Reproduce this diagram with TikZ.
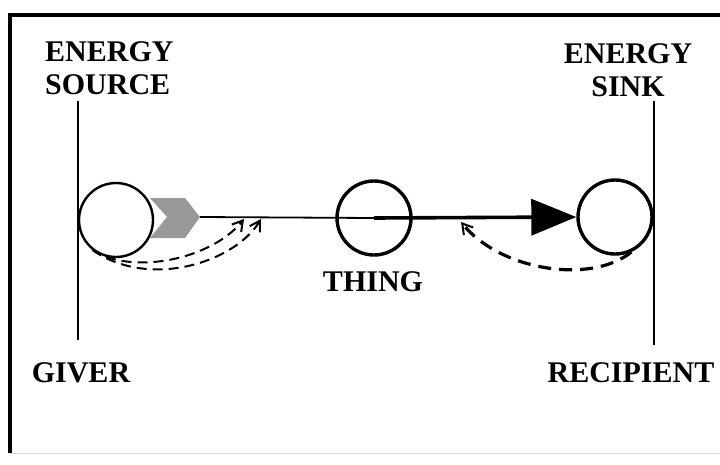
\documentclass[tikz,border=0pt]{standalone}
\usepackage{fontspec}
\setmainfont{Liberation Serif}
\usetikzlibrary{arrows.meta,positioning}

\begin{document}
\begin{tikzpicture}[x=1pt,y=-1pt,
  lbl/.style={font=\fontsize{30}{33}\selectfont\bfseries,align=center,inner sep=0pt},
  body/.style={circle,draw,minimum size=74pt,inner sep=0pt},
  wall/.style={line width=2.4pt},
  flow/.style={dashed,dash pattern=on 10pt off 6pt,line width=2pt,-{Straight Barb[length=10pt,width=12pt,line width=2pt]}}]
  \useasboundingbox (0,0) rectangle (720,464);
  % frame
  \draw[line width=3.2pt] (10,453) -- (10,15) -- (725,15);
  \draw[black!15,line width=0.6pt] (10,453) -- (725,453);
  % walls
  \coordinate (gtop) at (78,101);  \coordinate (gbot) at (78,340);
  \coordinate (rtop) at (654,101); \coordinate (rbot) at (654,345);
  \draw[wall] (gtop) -- (gbot);
  \draw[wall] (rtop) -- (rbot);
  % bodies
  \node[body,line width=2.4pt] (src) at (116,220) {};
  \node[body,line width=3.4pt] (thing) at (374,218) {};
  \node[body,line width=3.4pt] (sink) at (615,217) {};
  % labels
  \node[lbl,align=left,anchor=north west] (source) at (45,41) {ENERGY\\SOURCE};
  \node[lbl] (sinklbl) at (628,70) {ENERGY\\SINK};
  \node[lbl] (thinglbl) at (373,282) {THING};
  \node[lbl] (giver) at (81,373) {GIVER};
  \node[lbl] (recip) at (631,373) {RECIPIENT};
  % shaded push
  \coordinate (tip) at (200,217);
  \fill[black!40] (150,198) -- (185,198) -- (tip) -- (185,238) -- (150,238) -- (167,217) -- cycle;
  \draw[line width=1.8pt] (tip) -- (thing.center);
  \draw[line width=3.6pt,-{Triangle[length=45pt,width=36pt]}] (thing.center) -- (sink.west);
  % energy returns
  \coordinate (h1) at (244,219); \coordinate (h2) at (261,219);
  \coordinate (h3) at (461,222);
  \draw[flow] (src.-105) .. controls (150,272) and (215,255) .. (h1);
  \draw[flow] (src.-128) .. controls (150,290) and (235,262) .. (h2);
  \draw[flow,line width=3.2pt,dash pattern=on 13pt off 8pt] (sink.-65) .. controls (590,285) and (500,270) .. (h3);
\end{tikzpicture}
\end{document}
